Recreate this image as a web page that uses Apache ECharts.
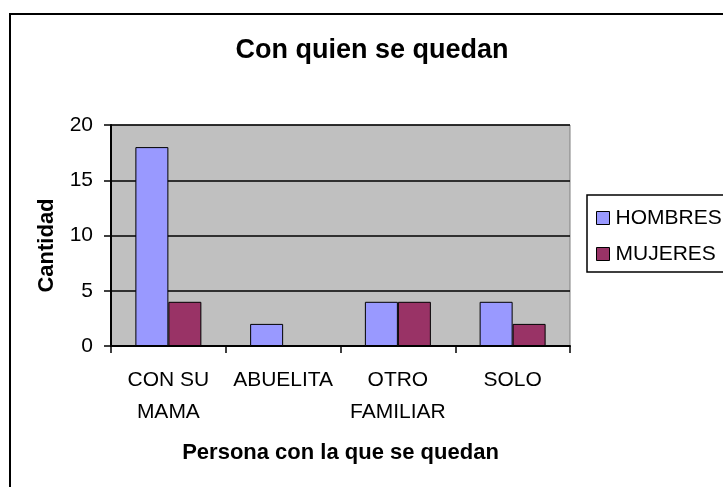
<!DOCTYPE html>
<html>
<head>
<meta charset="utf-8">
<script src="https://cdn.jsdelivr.net/npm/echarts@6/dist/echarts.min.js"></script>
<style>
  html, body { margin: 0; padding: 0; background: #fff; }
  #main { width: 723px; height: 487px; }
</style>
</head>
<body>
<div id="main"></div>
<script>
// datos de la grafica
var categorias = ['CON SU\nMAMA', 'ABUELITA', 'OTRO\nFAMILIAR', 'SOLO'];
var hombres = [18, 2, 4, 4];
var mujeres = [4, 0, 4, 2];
var series_nombres = ['HOMBRES', 'MUJERES'];

var fuente = 'Liberation Sans, Arial, sans-serif';

var myChart = echarts.init(document.getElementById('main'));

var option = {
	backgroundColor : '#fff',
	animation : false,
	textStyle : { fontFamily : fuente },
	title : {
		text : 'Con quien se quedan',
		left : 372,
		textAlign : 'center',
		top : 37,
		padding : 0,
		textStyle : { fontFamily : fuente, fontSize : 27, fontWeight : 'bold', color : '#000' }
	},
	// marco exterior de la grafica
	graphic : [ {
		type : 'rect',
		shape : { x : 10, y : 14, width : 800, height : 600 },
		style : { fill : 'none', stroke : '#000', lineWidth : 2 },
		z : 100
	} ],
	legend : {
		data : series_nombres,
		orient : 'vertical',
		left : 587,
		top : 195,
		padding : [ 11, 10, 6, 9 ],
		itemGap : 12,
		itemWidth : 13,
		itemHeight : 13,
		icon : 'rect',
		borderColor : '#000',
		borderWidth : 1.5,
		backgroundColor : '#fff',
		itemStyle : { borderColor : '#000', borderWidth : 1 },
		textStyle : { fontFamily : fuente, fontSize : 21, color : '#000', lineHeight : 24, padding : [ 0, 0, 0, 1 ] }
	},
	grid : {
		left : 111,
		right : 153,
		top : 125,
		bottom : 141,
		show : true,
		backgroundColor : '#C0C0C0',
		borderColor : '#808080',
		borderWidth : 1
	},
	xAxis : {
		type : 'category',
		data : categorias,
		name : 'Persona con la que se quedan',
		nameLocation : 'middle',
		nameGap : 96,
		nameTextStyle : { fontFamily : fuente, fontSize : 22, fontWeight : 'bold', color : '#000' },
		axisLine : { lineStyle : { color : '#000', width : 2 } },
		axisTick : { show : true, length : 7, lineStyle : { color : '#000', width : 1.5 } },
		axisLabel : { fontFamily : fuente, fontSize : 21, color : '#000', lineHeight : 32, margin : 18, interval : 0 }
	},
	yAxis : {
		type : 'value',
		min : 0,
		max : 20,
		interval : 5,
		name : 'Cantidad',
		nameLocation : 'middle',
		nameGap : 53,
		nameTextStyle : { fontFamily : fuente, fontSize : 22, fontWeight : 'bold', color : '#000', padding : [ 0, 20, 0, 0 ] },
		axisLine : { show : true, lineStyle : { color : '#000', width : 2 } },
		axisTick : { show : true, length : 7, lineStyle : { color : '#000', width : 1.5 } },
		axisLabel : { fontFamily : fuente, fontSize : 21, color : '#000', margin : 18 },
		splitLine : { lineStyle : { color : '#000', width : 1.5 } }
	},
	series : [ {
		name : series_nombres[0],
		type : 'bar',
		data : hombres,
		barGap : '0%',
		barCategoryGap : '42.5%',
		itemStyle : { color : '#9999FF', borderColor : '#000', borderWidth : 1 }
	}, {
		name : series_nombres[1],
		type : 'bar',
		data : mujeres,
		itemStyle : { color : '#993366', borderColor : '#000', borderWidth : 1 }
	} ]
};

myChart.setOption(option);
</script>
</body>
</html>
